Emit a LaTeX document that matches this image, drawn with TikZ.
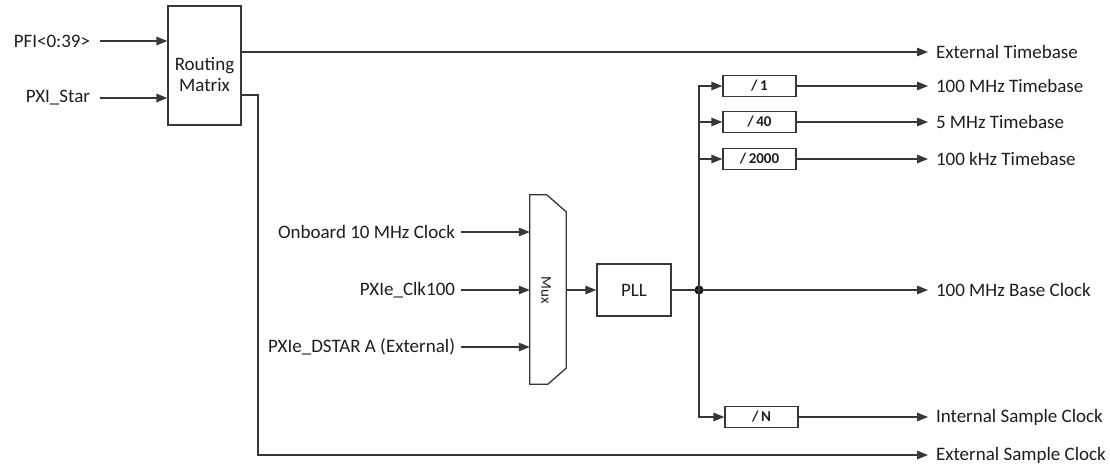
\documentclass[tikz,border=0pt]{standalone}
\usepackage{fontspec}
\setmainfont{Carlito}
\usetikzlibrary{arrows.meta}
\definecolor{ln}{RGB}{55,55,55}
\definecolor{tx}{RGB}{30,30,30}
\begin{document}
\begin{tikzpicture}[x=1pt,y=-1pt,
  every node/.style={text=tx},
  lbl/.style={inner sep=0pt,outer sep=0pt,font=\fontsize{19}{22}\selectfont},
  box/.style={draw=ln,line width=1.3pt,inner sep=0pt,fill=white},
  divbox/.style={box,minimum width=73pt,minimum height=21pt,font=\bfseries\fontsize{15}{17}\selectfont},
  wire/.style={draw=ln,line width=1.3pt},
  arr/.style={wire,-{Triangle[length=11pt,width=8.5pt]}}]
\useasboundingbox[fill=white] (0,0) rectangle (1110,464);

% Routing matrix
\node[box,minimum width=73pt,minimum height=119pt] (rm) at (204.5,65.5) {};
\node[lbl,align=center,font=\fontsize{19}{21}\selectfont] (rmt) at (204.5,74) {Routing\\Matrix};
\node[lbl,anchor=east] (pfi) at (90,41) {PFI<0:39>};
\node[lbl,anchor=east] (pxi) at (90,98) {PXI\_Star};
\draw[arr] ([xshift=10pt]pfi.east) -- (rm.west |- pfi);
\draw[arr] ([xshift=10pt]pxi.east) -- (rm.west |- pxi);

% outputs of routing matrix
\node[lbl,anchor=west] (ext) at (936,52) {External Timebase};
\node[lbl,anchor=west] (esc) at (936,455) {External Sample Clock};
\coordinate (rmo) at (241,95);
\coordinate (rmc) at (258,95);
\draw[arr] (rm.east |- ext) -- ([xshift=-8pt]ext.west);
\draw[arr] (rmo) -- (rmc) |- ([xshift=-8pt]esc.west);

% Mux
\node[inner sep=0pt,minimum width=36pt,minimum height=189pt] (mux) at (548,289.5) {};
\draw[wire,line join=miter] (mux.north west) -- ++(17,0) -- ([yshift=-17pt]mux.north east)
  -- ([yshift=16pt]mux.south east) -- ([xshift=18pt]mux.south west) -- (mux.south west) -- cycle;
\node[lbl,rotate=-90,font=\fontsize{15}{17}\selectfont] (muxt) at (546,290) {Mux};
\node[lbl,anchor=east] (in1) at (455,232) {Onboard 10 MHz Clock};
\node[lbl,anchor=east] (in2) at (455,290) {PXIe\_Clk100};
\node[lbl,anchor=east] (in3) at (455,347) {PXIe\_DSTAR A (External)};
\draw[arr] ([xshift=6pt]in1.east) -- (mux.west |- in1);
\draw[arr] ([xshift=6pt]in2.east) -- (mux.west |- in2);
\draw[arr] ([xshift=6pt]in3.east) -- (mux.west |- in3);

% PLL
\node[box,minimum width=74pt,minimum height=52pt,font=\fontsize{19}{22}\selectfont] (pll) at (634,290) {PLL};
\draw[arr] (mux.east |- pll) -- (pll.west);
\node[circle,fill=black,inner sep=0pt,minimum size=9pt] (j) at (699,290) {};
\draw[wire] (pll.east) -- (j.center);

% dividers
\node[divbox] (d1) at (759.5,86) {/\,1};
\node[divbox] (d40) at (759.5,122) {/\,40};
\node[divbox] (d2000) at (759.5,159) {/\,2000};
\node[divbox] (dN) at (761.5,417) {/\,N};
\draw[arr,line join=miter] (j.center) |- (d1.west);
\draw[arr] (d40.west -| j) -- (d40.west);
\draw[arr] (d2000.west -| j) -- (d2000.west);
\draw[arr,line join=miter] (j.center) |- (dN.west);

% output labels
\node[lbl,anchor=west] (o1) at (936,86) {100 MHz Timebase};
\node[lbl,anchor=west] (o2) at (936,122) {5 MHz Timebase};
\node[lbl,anchor=west] (o3) at (936,159) {100 kHz Timebase};
\node[lbl,anchor=west] (o4) at (936,290) {100 MHz Base Clock};
\node[lbl,anchor=west] (o5) at (936,417) {Internal Sample Clock};
\draw[arr] (d1.east) -- ([xshift=-8pt]o1.west);
\draw[arr] (d40.east) -- ([xshift=-8pt]o2.west);
\draw[arr] (d2000.east) -- ([xshift=-8pt]o3.west);
\draw[arr] (j.center) -- ([xshift=-8pt]o4.west);
\draw[arr] (dN.east) -- ([xshift=-8pt]o5.west);
\end{tikzpicture}
\end{document}
